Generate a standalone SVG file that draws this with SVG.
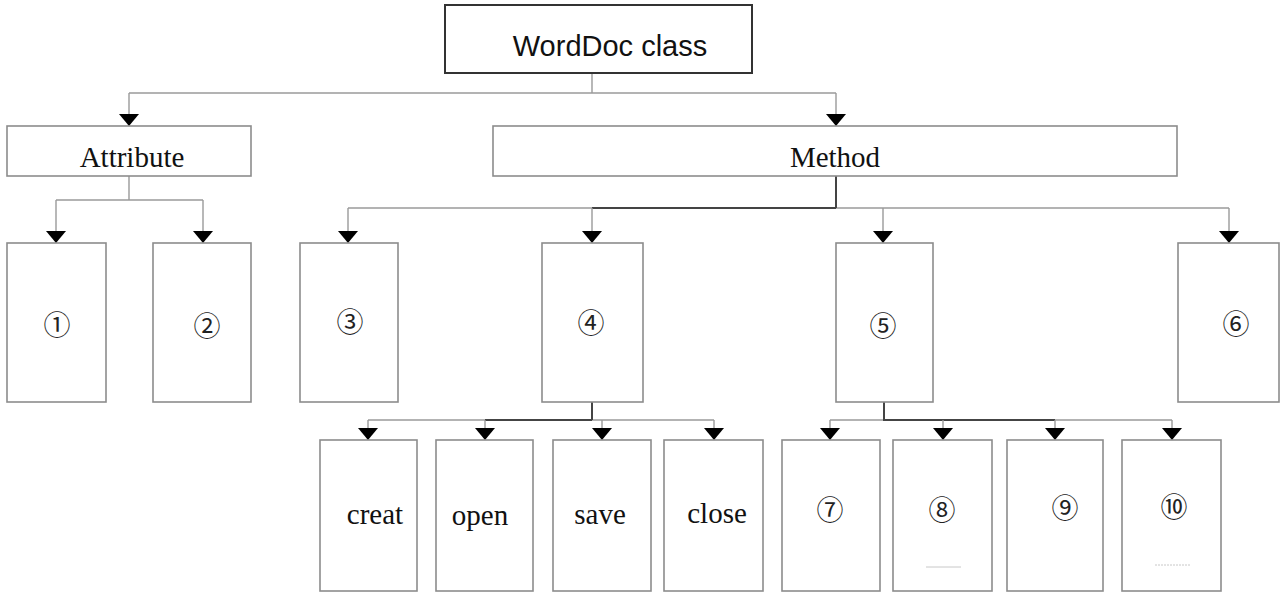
<svg xmlns="http://www.w3.org/2000/svg" width="1281" height="592" viewBox="0 0 1281 592">
  <defs>
    <marker id="arrow" markerUnits="userSpaceOnUse" markerWidth="22" markerHeight="14" viewBox="0 0 22 14" refX="11" refY="13" orient="0">
      <path d="M1 1 H21 L11 13 Z" fill="#000"/>
    </marker>
    <style>
      .box { fill: #fff; stroke: #8c8c8c; stroke-width: 1.6; }
      .top { fill: #fff; stroke: #333; stroke-width: 2; }
      .wire { fill: none; stroke: #9a9a9a; stroke-width: 1.4; }
      .trunk { fill: none; stroke: #444; stroke-width: 2; }
      .arr { fill: none; stroke: #9a9a9a; stroke-width: 1.4; marker-end: url(#arrow); }
      .serif { font-family: "Liberation Serif", "Times New Roman", serif; font-size: 29px; fill: #111; text-anchor: middle; }
      .sans { font-family: "Liberation Sans", Arial, sans-serif; font-size: 29px; fill: #111; text-anchor: middle; }
      .num { font-family: "Liberation Serif", "Noto Sans CJK SC", serif; font-size: 27px; fill: #222; text-anchor: middle; }
      .faint { stroke: #c8c8c8; stroke-width: 1; }
    </style>
  </defs>

  <!-- connectors -->
  <g id="connectors">
    <!-- class to attribute / method -->
    <path class="wire" d="M592 73 V93 M129 93 H836"/>
    <path class="arr" d="M129 93 V126"/>
    <path class="arr" d="M836 93 V126"/>
    <!-- attribute children -->
    <path class="wire" d="M129 176 V200 M56 200 H203"/>
    <path class="arr" d="M56 200 V243"/>
    <path class="arr" d="M203 200 V243"/>
    <!-- method children -->
    <path class="wire" d="M348 208 H1229"/>
    <path class="trunk" d="M836 176 V208 M592 208 H836"/>
    <path class="arr" d="M348 208 V243"/>
    <path class="arr" d="M592 208 V243"/>
    <path class="arr" d="M883 208 V243"/>
    <path class="arr" d="M1229 208 V243"/>
    <!-- box 4 children -->
    <path class="wire" d="M368 420 H714"/>
    <path class="trunk" d="M592 402 V420 M485 420 H592"/>
    <path class="arr" d="M368 420 V440"/>
    <path class="arr" d="M485 420 V440"/>
    <path class="arr" d="M602 420 V440"/>
    <path class="arr" d="M714 420 V440"/>
    <!-- box 5 children -->
    <path class="wire" d="M830 420 H1172"/>
    <path class="trunk" d="M884 402 V420 H1055"/>
    <path class="arr" d="M830 420 V440"/>
    <path class="arr" d="M943 420 V440"/>
    <path class="arr" d="M1055 420 V440"/>
    <path class="arr" d="M1172 420 V440"/>
  </g>

  <!-- root -->
  <g id="worddoc">
    <rect class="top" x="445" y="5" width="307" height="68"/>
    <text class="sans" x="610" y="56">WordDoc class</text>
  </g>

  <!-- second level -->
  <g id="attribute">
    <rect class="box" x="7" y="126" width="244" height="50"/>
    <text class="serif" x="132" y="167">Attribute</text>
  </g>
  <g id="method">
    <rect class="box" x="493" y="126" width="684" height="50"/>
    <text class="serif" x="835" y="167">Method</text>
  </g>

  <!-- third level -->
  <g id="n1">
    <rect class="box" x="7" y="243" width="99" height="159"/>
    <text class="num" x="57" y="335">①</text>
  </g>
  <g id="n2">
    <rect class="box" x="153" y="243" width="98" height="159"/>
    <text class="num" x="207" y="336">②</text>
  </g>
  <g id="n3">
    <rect class="box" x="300" y="243" width="98" height="159"/>
    <text class="num" x="350" y="332">③</text>
  </g>
  <g id="n4">
    <rect class="box" x="542" y="243" width="101" height="159"/>
    <text class="num" x="591" y="333">④</text>
  </g>
  <g id="n5">
    <rect class="box" x="836" y="243" width="97" height="159"/>
    <text class="num" x="883" y="336">⑤</text>
  </g>
  <g id="n6">
    <rect class="box" x="1178" y="243" width="101" height="159"/>
    <text class="num" x="1236" y="334">⑥</text>
  </g>

  <!-- fourth level: methods of box 4 -->
  <g id="creat">
    <rect class="box" x="320" y="440" width="97" height="151"/>
    <text class="serif" x="375" y="524">creat</text>
  </g>
  <g id="open">
    <rect class="box" x="436" y="440" width="97" height="151"/>
    <text class="serif" x="480" y="525">open</text>
  </g>
  <g id="save">
    <rect class="box" x="553" y="440" width="98" height="151"/>
    <text class="serif" x="600" y="524">save</text>
  </g>
  <g id="close">
    <rect class="box" x="664" y="440" width="99" height="151"/>
    <text class="serif" x="717" y="523">close</text>
  </g>

  <!-- fourth level: children of box 5 -->
  <g id="n7">
    <rect class="box" x="782" y="440" width="98" height="151"/>
    <text class="num" x="830" y="520">⑦</text>
  </g>
  <g id="n8">
    <rect class="box" x="893" y="440" width="99" height="151"/>
    <text class="num" x="942" y="520">⑧</text>
    <line class="faint" x1="926" y1="567" x2="961" y2="567"/>
  </g>
  <g id="n9">
    <rect class="box" x="1007" y="440" width="96" height="151"/>
    <text class="num" x="1065" y="518">⑨</text>
  </g>
  <g id="n10">
    <rect class="box" x="1122" y="440" width="99" height="151"/>
    <text class="num" x="1174" y="517">⑩</text>
    <line class="faint" x1="1155" y1="565" x2="1190" y2="565" stroke-dasharray="2 1"/>
  </g>
</svg>
